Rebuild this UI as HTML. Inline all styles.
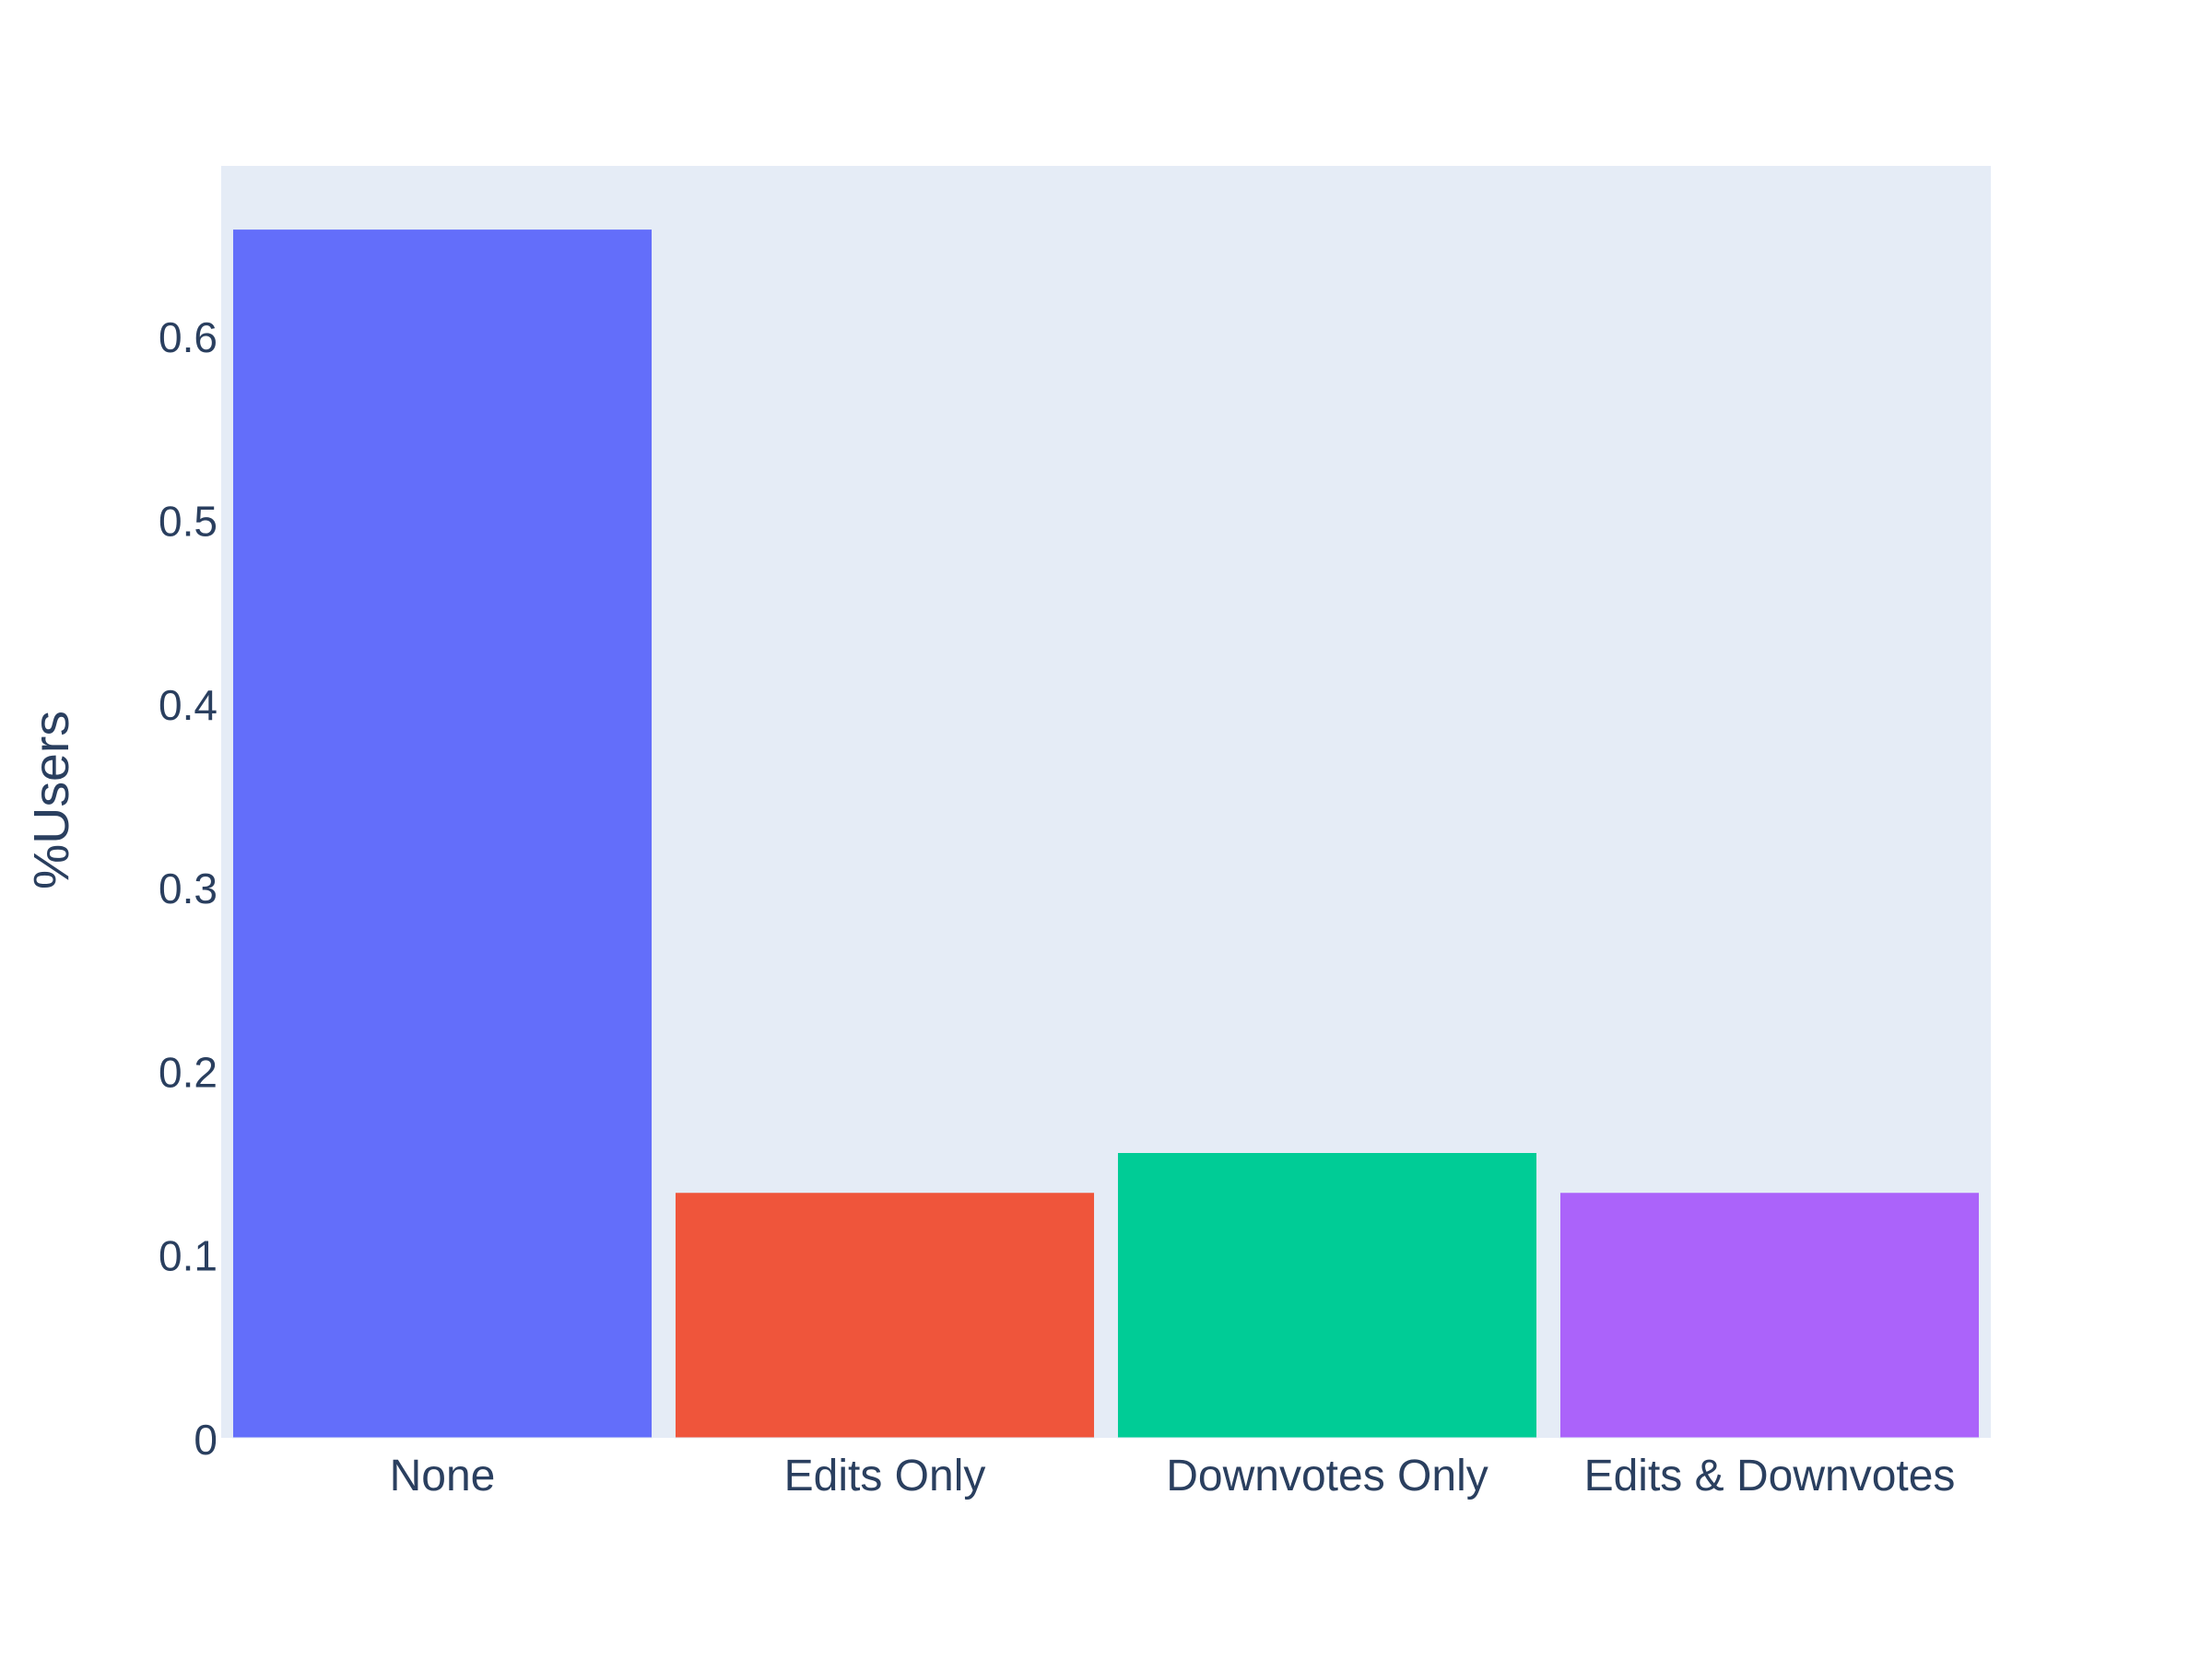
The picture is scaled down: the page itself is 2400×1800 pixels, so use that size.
<!DOCTYPE html>
<html><head><meta charset="utf-8"><style>
html,body{margin:0;padding:0;background:#fff;}
svg{display:block;font-family:"Liberation Sans",sans-serif;}
</style></head><body>
<svg id="chart" width="2400" height="1800" viewBox="0 0 2400 1800" xmlns="http://www.w3.org/2000/svg">
<rect x="0" y="0" width="2400" height="1800" fill="#ffffff"/>
<rect x="240" y="180" width="1920" height="1380" fill="#e5ecf6"/>
<g id="bars"></g>
<g id="yticks"></g>
<g id="xticks"></g>
<text x="0" y="0" transform="translate(74,868) rotate(-90)" text-anchor="middle" font-size="54" fill="#2a3f5f" textLength="194" lengthAdjust="spacingAndGlyphs">%Users</text>
</svg>
<script>
const categories = ["None", "Edits Only", "Downvotes Only", "Edits & Downvotes"];
const values = [0.659, 0.1346, 0.1563, 0.1346];
const colors = ["#636efa", "#EF553B", "#00cc96", "#ab63fa"];
const yTicks = [0, 0.1, 0.2, 0.3, 0.4, 0.5, 0.6];
const yTickLabels = ["0", "0.1", "0.2", "0.3", "0.4", "0.5", "0.6"];

const NS = "http://www.w3.org/2000/svg";
const plotL = 240, plotR = 2160, y0px = 1562, pxPerUnit = 1993;
function yScale(v){ return y0px - v * pxPerUnit; }
const band = (plotR - plotL) / categories.length;
function xCenter(i){ return plotL + band * (i + 0.5); }
const barW = band * 0.948;

const barsG = document.getElementById('bars');
values.forEach((v, i) => {
  const r = document.createElementNS(NS, 'rect');
  
  
  const top = yScale(v), bot = Math.min(yScale(0), 1560);
  r.setAttribute('x', xCenter(i) - barW / 2);
  r.setAttribute('y', top);
  r.setAttribute('width', barW);
  r.setAttribute('height', bot - top);
  r.setAttribute('fill', colors[i]);
  r.setAttribute('stroke', '#e5ecf6');
  r.setAttribute('stroke-width', '1');
  barsG.appendChild(r);
});

const yG = document.getElementById('yticks');
yTicks.forEach((t, i) => {
  const tx = document.createElementNS(NS, 'text');
  
  
  tx.setAttribute('x', 236);
  tx.setAttribute('y', yScale(t) + 16);
  tx.setAttribute('text-anchor', 'end');
  tx.setAttribute('font-size', '46');
  tx.setAttribute('fill', '#2a3f5f');
  tx.textContent = yTickLabels[i];
  yG.appendChild(tx);
});

const xG = document.getElementById('xticks');
categories.forEach((c, i) => {
  const tx = document.createElementNS(NS, 'text');
  
  
  tx.setAttribute('x', xCenter(i));
  tx.setAttribute('y', 1617);
  tx.setAttribute('text-anchor', 'middle');
  tx.setAttribute('font-size', '48');
  tx.setAttribute('fill', '#2a3f5f');
  tx.textContent = c;
  xG.appendChild(tx);
});
</script>
</body></html>
